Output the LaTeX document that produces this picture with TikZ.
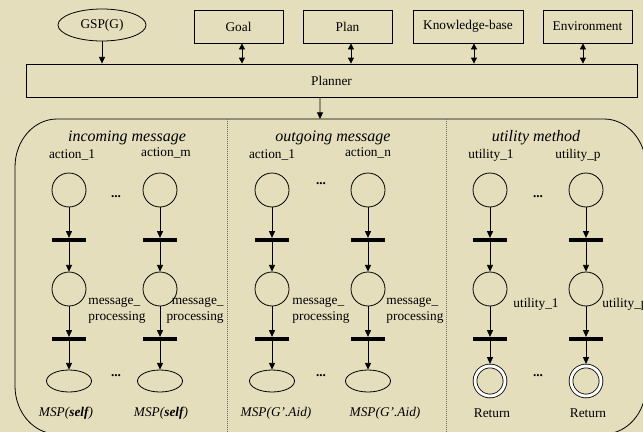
\documentclass[tikz,border=0pt]{standalone}
\usepackage{fontspec}
\setmainfont{Liberation Serif}
\usetikzlibrary{arrows.meta,shapes.geometric}
\definecolor{paper}{RGB}{228,222,188}
\definecolor{divider}{RGB}{110,110,100}
\begin{document}
\begin{tikzpicture}[x=0.75pt,y=-0.75pt,
  font=\fontsize{10}{12}\selectfont,
  line width=0.6pt,
  arr/.style={-{Triangle[length=5pt,width=4.5pt]}},
  darr/.style={{Triangle[length=4.5pt,width=4.5pt]}-{Triangle[length=4.5pt,width=4.5pt]}},
  box/.style={draw, minimum height=24.75pt, inner sep=0pt},
  place/.style={draw, circle, minimum size=25.5pt, inner sep=0pt},
  trans/.style={fill=black, minimum width=25.5pt, minimum height=2.6pt, inner sep=0pt},
  token/.style={draw, ellipse, minimum width=33.75pt, minimum height=16.5pt, inner sep=0pt},
  final/.style={draw, circle, double, double distance=2.2pt, minimum size=22.5pt, inner sep=0pt},
  title/.style={font=\fontsize{12}{14}\selectfont\itshape},
  dots/.style={font=\fontsize{10}{12}\selectfont\bfseries, inner sep=0pt},
  sep/.style={densely dotted, divider, line width=0.5pt}]

% page and background
\useasboundingbox (0,0) rectangle (643,432);
\fill[paper] (0,0) rectangle (643,432);
\clip (0,0) rectangle (643,432);

% top row: inputs of the planner
\node[draw, ellipse, minimum width=66pt, minimum height=24pt, inner sep=0pt] (gsp) at (102,25) {GSP(G)};
\node[box, minimum width=66.75pt] (goal) at (238.5,26.5) {Goal};
\node[box, minimum width=66.75pt] (plan) at (347.5,26.5) {Plan};
\node[box, minimum width=82.5pt]  (kb)   at (468,26.5) {Knowledge-base};
\node[box, minimum width=66.75pt] (env)  at (587.5,26.5) {Environment};

\node[box, minimum width=458.25pt] (planner) at (331.5,80.5) {Planner};

\draw[arr]  (gsp.south) -- (gsp.south |- planner.north);
\draw[darr] ([xshift=2.6pt]goal.south) -- ([xshift=2.6pt]goal.south |- planner.north);
\draw[darr] ([xshift=2.6pt]plan.south) -- ([xshift=2.6pt]plan.south |- planner.north);
\draw[darr] ([xshift=4.5pt]kb.south)   -- ([xshift=4.5pt]kb.south |- planner.north);
\draw[darr] ([xshift=-3.4pt]env.south) -- ([xshift=-3.4pt]env.south |- planner.north);

% container of the three method groups
\coordinate (ctop) at (320,119);
\draw (57,119) -- (604,119)
  arc[start angle=90, end angle=0, x radius=31.5pt, y radius=36pt] -- (646,386)
  arc[start angle=0, end angle=-90, x radius=31.5pt, y radius=36pt] -- (57,434)
  arc[start angle=270, end angle=180, x radius=31.5pt, y radius=36pt] -- (15,167)
  arc[start angle=180, end angle=90, x radius=31.5pt, y radius=36pt] -- cycle;
\draw[arr] ([xshift=-8.6pt]planner.south) -- (ctop);

\draw[sep] (227,119) -- (227,434);
\draw[sep] (446,119) -- (446,434);

% group titles
\node[title] (tin)  at (127,138) {incoming message};
\node[title] (tout) at (333,138) {outgoing message};
\node[title] (tut)  at (536,138) {utility method};

% labels above the first places
\node (l1) at (72,155)  {action\_1};
\node (l2) at (166,153) {action\_m};
\node (l3) at (272,155) {action\_1};
\node (l4) at (368,153) {action\_n};
\node (l5) at (491,155) {utility\_1};
\node (l6) at (578,155) {utility\_p};

% petri-net chains
\foreach \i/\x in {1/69,2/160,3/272,4/368,5/490,6/586} {
  \node[place] (pa\i) at (\x,190) {};
  \node[trans] (ta\i) at (\x,240) {};
  \node[place] (pb\i) at (\x,289) {};
  \node[trans] (tb\i) at (\x,339) {};
  \draw[arr] (pa\i) -- (ta\i.north);
  \draw[arr] (ta\i.south) -- (pb\i);
  \draw[arr] (pb\i) -- (tb\i.north);
}
\foreach \i/\x in {1/69,2/160,3/272,4/368} {
  \node[token] (end\i) at (\x,381) {};
  \draw[arr] (tb\i.south) -- (end\i);
}
\foreach \i/\x in {5/490,6/586} {
  \node[final] (end\i) at (\x,381) {};
  \draw[arr, shorten >=1.3pt] (tb\i.south) -- (end\i);
}

% ellipsis marks between the chains
\node[dots] (d1) at (116,197) {...};
\node[dots] (d2) at (321,184) {...};
\node[dots] (d3) at (538,197) {...};
\node[dots] (d4) at (116,376) {...};
\node[dots] (d5) at (321,376) {...};
\node[dots] (d6) at (538,376) {...};

% labels beside the second places
\node[anchor=west, align=left, inner sep=0pt]  (m1) at (88,310.5)  {message\_\\processing};
\node[anchor=east, align=right, inner sep=0pt] (m2) at (224,310.5) {message\_\\processing};
\node[anchor=west, align=left, inner sep=0pt]  (m3) at (292,310.5) {message\_\\processing};
\node[anchor=west, align=left, inner sep=0pt]  (m4) at (386,310.5) {message\_\\processing};
\node[anchor=west, inner sep=0pt] (u1) at (513,304) {utility\_1};
\node[anchor=west, inner sep=0pt] (u2) at (602,304) {utility\_p};

% labels below the final places
\node (b1) at (66,413)  {\itshape MSP(\textbf{self})};
\node (b2) at (161,413) {\itshape MSP(\textbf{self})};
\node (b3) at (276,413) {\itshape MSP(G'.Aid)};
\node (b4) at (385,413) {\itshape MSP(G'.Aid)};
\node (b5) at (492,413) {Return};
\node (b6) at (588,413) {Return};
\end{tikzpicture}
\end{document}
